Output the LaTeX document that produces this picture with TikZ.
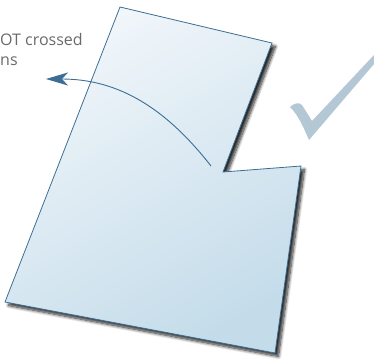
\documentclass[tikz,border=0pt]{standalone}
\usepackage{fontspec}
\setmainfont{Open Sans}
\usepackage{tikz}
\usetikzlibrary{arrows.meta, shadows.blur}
\definecolor{edgeblue}{HTML}{3C6E94}
\definecolor{paperlight}{HTML}{F1F6FA}
\definecolor{paperdark}{HTML}{C4DCEA}
\definecolor{tickgray}{HTML}{B3C7D5}
\definecolor{textgray}{HTML}{6A6A6A}
\tikzset{
    paper_shape/.style={
        draw=edgeblue, line width=0.8pt, line join=miter,
        top color=paperlight, bottom color=paperdark, shading angle=30,
        blur shadow={shadow xshift=3.5pt, shadow yshift=-3.5pt, shadow blur radius=3pt, shadow blur steps=10, shadow opacity=85}
    },
    curve_arrow/.style={
        -{Stealth[length=22pt, width=13pt, inset=6pt]}, draw=edgeblue, line width=0.9pt
    },
    note_lbl/.style={
        font=\fontsize{16pt}{20pt}\selectfont, text=textgray, align=left, inner sep=0pt
    }
}
\begin{document}
\begin{tikzpicture}[x=1pt, y=-1pt]
    \useasboundingbox (0,0) rectangle (374,359);

    % Corners
    \coordinate (topleft) at (120,7);
    \coordinate (topright) at (272,43);
    \coordinate (notch) at (223,172);
    \coordinate (stepright) at (301,166);
    \coordinate (botright) at (275,353);
    \coordinate (botleft) at (5,302);

    % Shape
    \path[paper_shape] (topleft) -- (topright) -- (notch) -- (stepright) -- (botright) -- (botleft) -- cycle;

    % Tick
    \fill[tickgray] (290,107) .. controls (294,103) and (299,102) .. (302,105)
        -- (312,121) -- (374,55) -- (374,64) -- (309,140)
        .. controls (303,126) and (298,115) .. (290,107) -- cycle;

    % Label
    \node[note_lbl, anchor=base west] (label) at (0,65) {OT crossed\\ns};
    \coordinate (tip) at (46,79);
    \coordinate (start) at (211,166);

    % Connector
    \draw[curve_arrow] (start) to[out=128, in=0] (tip);
\end{tikzpicture}
\end{document}
